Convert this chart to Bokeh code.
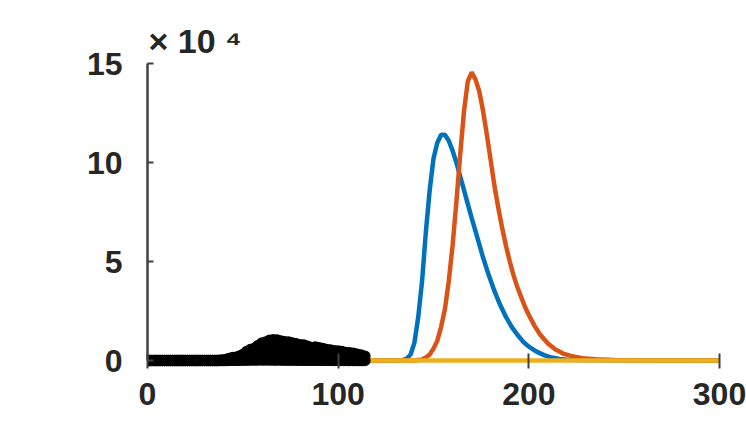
from bokeh.plotting import figure
from bokeh.models import Range1d, FixedTicker
from bokeh.embed import file_html
from bokeh.resources import INLINE

# ---------------- data ----------------
obs_days = list(range(0, 115))
obs_cases = [
    0, 0, 0, 0, 0, 0, 0, 0, 0, 0,
    0, 0, 0, 0, 0, 0, 0, 0, 0, 0,
    0, 0, 0, 0, 0, 0, 0, 0, 0, 0,
    0, 0, 0, 0, 0, 0, 0, 0, 100, 150,
    200, 400, 800, 1000, 1300, 1500, 1400, 1800, 2000, 2500,
    3000, 2200, 4500, 3100, 5500, 3600, 6200, 4000, 7500, 4300,
    8800, 4600, 9300, 5200, 10200, 5400, 10500, 5000, 10300, 5600,
    9900, 5200, 9500, 4800, 9300, 4200, 8800, 3900, 8400, 3500,
    8000, 3400, 7800, 3000, 7200, 3300, 6600, 2800, 6800, 2600,
    6500, 2500, 6000, 2200, 5600, 2400, 5300, 2000, 4900, 1800,
    4800, 1700, 4500, 1600, 4100, 1500, 3900, 1400, 3600, 1200,
    3200, 1100, 2800, 1000, 2200,
]
obs_other = [
    0, 0, 0, 0, 0, 0, 0, 0, 0, 0,
    0, 0, 0, 0, 0, 0, 0, 0, 0, 0,
    0, 0, 0, 0, 0, 0, 0, 0, 0, 0,
    0, 0, 0, 0, 0, 0, 0, 0, 0, 0,
    0, 50, 50, 100, 100, 150, 100, 200, 150, 200,
    250, 200, 300, 250, 300, 350, 300, 400, 300, 350,
    400, 300, 350, 400, 300, 350, 300, 250, 300, 350,
    300, 250, 300, 200, 250, 300, 200, 250, 200, 150,
    200, 250, 150, 200, 150, 200, 150, 100, 150, 200,
    100, 150, 100, 150, 100, 100, 150, 100, 50, 100,
    100, 50, 100, 50, 100, 50, 50, 100, 50, 50,
    50, 0, 50, 0, 50,
]

blue_days = [114, 130, 134, 136, 138, 140, 142, 144, 146, 148, 150, 152, 154, 156,
             158, 160, 162, 164, 166, 168, 170, 173, 176, 179, 182, 185, 188,
             191, 194, 197, 200, 204, 208, 212, 216, 220, 230, 300]
blue_vals = [0, 0, 200, 1000, 3000, 9000, 22000, 40000, 65000, 86000, 102000, 110000,
             114000, 114000, 111000, 106000, 100000, 93000, 86000, 79000, 72000,
             62000, 52000, 43000, 35000, 28000, 22000, 17000, 13000, 9500, 7000,
             4500, 2700, 1500, 800, 400, 100, 0]

orange_days = [114, 140, 144, 146, 148, 150, 152, 154, 156, 158, 160, 162, 164, 166,
               168, 170, 172, 174, 176, 178, 180, 182, 184, 186, 188, 190, 192,
               194, 196, 198, 200, 203, 206, 210, 214, 218, 222, 228, 235, 245,
               260, 300]
orange_vals = [0, 0, 500, 1500, 3000, 6000, 10000, 17000, 26000, 40000, 58000, 80000,
               104000, 126000, 141000, 145500, 142000, 136000, 126000, 114000,
               101000, 88000, 77000, 67000, 58000, 50000, 43000, 37000, 32000,
               27000, 23000, 17500, 13000, 8600, 5500, 3500, 2300, 1200, 600,
               200, 0, 0]

yellow_days = [114, 300]
yellow_vals = [0, 0]

x_ticks = [0, 100, 200, 300]
y_ticks = [0, 50000, 100000, 150000]
y_tick_labels = ["0", "5", "10", "15"]
exponent_text = "× 10 ⁴"

# ---------------- figure ----------------
p = figure(width=746, height=422, output_backend="svg", toolbar_location=None,
           x_range=Range1d(0, 300), y_range=Range1d(-4040, 150000),
           min_border_left=147, min_border_right=27, min_border_top=63,
           min_border_bottom=54, title=exponent_text)
p.outline_line_color = None
p.grid.visible = False
p.background_fill_color = "white"
p.border_fill_color = "white"

p.line(blue_days, blue_vals, line_color="#0072BD", line_width=4.5)
p.line(orange_days, orange_vals, line_color="#D95319", line_width=4.5)
p.line(yellow_days, yellow_vals, line_color="#EDB120", line_width=4.5)
p.scatter(obs_days, obs_other, marker="circle", size=9, fill_color="black",
          line_color="black", line_width=2.5)
p.scatter(obs_days, obs_cases, marker="circle", size=9, fill_color="black",
          line_color="black", line_width=2.5)

font = "Liberation Sans"
axis_col = "#404040"
lab_col = "#262626"

xa = p.xaxis[0]
ya = p.yaxis[0]
xa.bounds = (0, 300)
ya.bounds = (0, 150000)
xa.ticker = FixedTicker(ticks=x_ticks, minor_ticks=[])
ya.ticker = FixedTicker(ticks=y_ticks, minor_ticks=[])
ya.major_label_overrides = {t: l for t, l in zip(y_ticks, y_tick_labels)}
for ax in (xa, ya):
    ax.axis_line_color = axis_col
    ax.axis_line_width = 2.5
    ax.major_tick_line_color = axis_col
    ax.major_tick_line_width = 2
    ax.major_tick_out = 0
    ax.minor_tick_in = 0
    ax.minor_tick_out = 0
    ax.major_label_text_font = font
    ax.major_label_text_font_size = "32px"
    ax.major_label_text_font_style = "bold"
    ax.major_label_text_color = lab_col
xa.axis_line_color = None
xa.major_tick_in = 15
ya.major_tick_in = 6
xa.major_label_standoff = 14
ya.major_label_standoff = 25

# exponent "x10^4" as the title, above the y axis
p.title.align = "left"
p.title.offset = 1
p.title.standoff = 8
p.title.text_font = font
p.title.text_font_size = "34px"
p.title.text_font_style = "bold"
p.title.text_color = lab_col

open("out.html", "w").write(file_html(p, INLINE))
